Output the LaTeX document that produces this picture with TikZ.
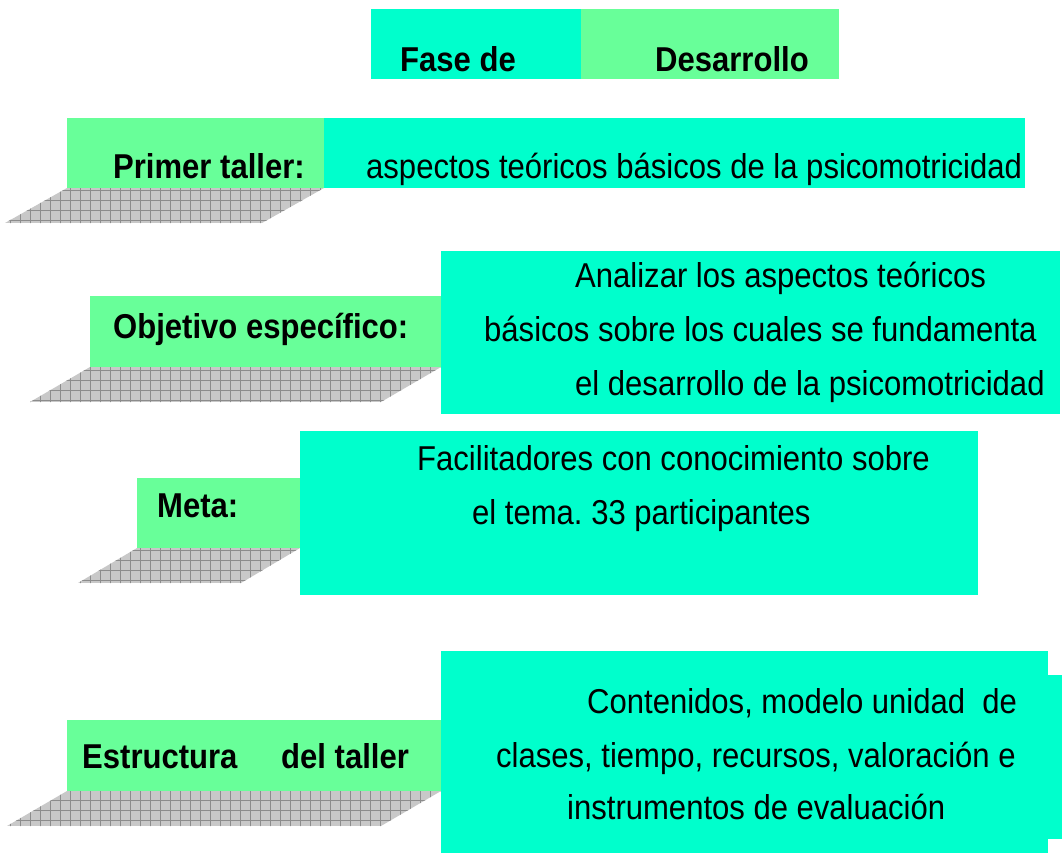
\documentclass[tikz,border=0pt]{standalone}
\usepackage{fontspec}
\setmainfont{Liberation Sans}[FakeStretch=0.9]
\frenchspacing
\definecolor{cyanbox}{RGB}{0,255,204}
\definecolor{greenbox}{RGB}{104,255,153}
\definecolor{shadefill}{RGB}{200,200,200}
\definecolor{shadeline}{RGB}{140,140,140}
\tikzset{
  txt/.style={anchor=base west, inner sep=0pt, font=\fontsize{34.5}{40}\selectfont},
  btxt/.style={txt, font=\fontsize{34.5}{40}\selectfont\bfseries},
  gridline/.style={draw=shadeline, line width=0.9pt},
}
\newcommand{\shadowpar}[5]{% topleft x, topright x, top y, bottom y, offset
  \begin{scope}
    \clip (#1,#3) -- (#2,#3) -- (#2-#5,#4) -- (#1-#5,#4) -- cycle;
    \fill[shadefill] (#1-#5,#3) rectangle (#2,#4);
    \draw[gridline, step=10pt] (#1-#5-20,#3) grid (#2+10,#4+10);
  \end{scope}
}
\begin{document}
\begin{tikzpicture}[x=1pt, y=-1pt]
\useasboundingbox (0,0) rectangle (1062,855);
\fill[white] (0,0) rectangle (1062,855);
% header
\fill[cyanbox] (371,9) rectangle (581,79);
\fill[greenbox] (581,9) rectangle (839,79);
\node[btxt] (fase) at (400,71) {Fase de};
\node[btxt] (desa) at (655,71) {Desarrollo};
% row 1
\shadowpar{67}{324}{188}{223}{62}
\fill[greenbox] (67,118) rectangle (324,188);
\fill[cyanbox] (324,118) rectangle (1025,188);
\node[btxt] (primer) at (113,178) {Primer taller:};
\node[txt] (aspectos) at (366,178) {aspectos teóricos básicos de la psicomotricidad};
% row 2
\shadowpar{90}{441}{367}{402}{60}
\fill[greenbox] (90,296) rectangle (441,367);
\fill[cyanbox] (441,251) rectangle (1060,414);
\node[btxt] (objetivo) at (113,338) {Objetivo específico:};
\node[txt] (obj1) at (575,287) {Analizar los aspectos teóricos};
\node[txt] (obj2) at (484,341) {básicos sobre los cuales se fundamenta};
\node[txt] (obj3) at (575,395) {el desarrollo de la psicomotricidad};
% row 3
\shadowpar{137}{300}{548}{583}{59}
\fill[greenbox] (137,478) rectangle (300,548);
\fill[cyanbox] (300,431) rectangle (978,595);
\node[btxt] (meta) at (157,517) {Meta:};
\node[txt] (meta1) at (417,470) {Facilitadores con conocimiento sobre};
\node[txt] (meta2) at (472,524) {el tema. 33 participantes};
% row 4
\shadowpar{67}{441}{791}{826}{60}
\fill[greenbox] (67,720) rectangle (441,791);
\fill[cyanbox] (441,651) rectangle (1048,853);
\fill[cyanbox] (1047,675) rectangle (1062,839);
\node[btxt] (estr) at (82,768) {Estructura};
\node[btxt] (deltaller) at (281,768) {del taller};
\node[txt] (est1) at (587,713) {Contenidos, modelo unidad\ \ de};
\node[txt] (est2) at (496,767) {clases, tiempo, recursos, valoración e};
\node[txt] (est3) at (567,819) {instrumentos de evaluación};
\end{tikzpicture}
\end{document}
